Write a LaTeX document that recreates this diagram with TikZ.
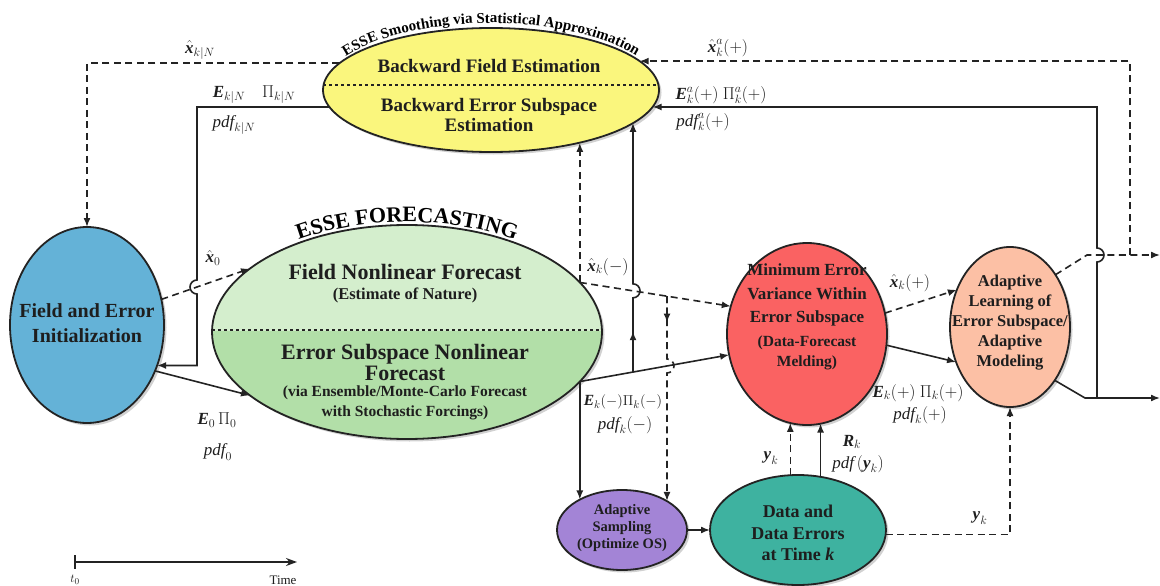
\documentclass[tikz,border=0pt]{standalone}
\usepackage{fontspec}
\setmainfont{Liberation Serif}
\usepackage{amsmath}
\usetikzlibrary{shapes.geometric,arrows.meta,decorations.text,shadows,calc,intersections}
\definecolor{cBlue}{RGB}{100,178,215}
\definecolor{cGreenL}{RGB}{212,238,205}
\definecolor{cGreenD}{RGB}{178,223,168}
\definecolor{cYellow}{RGB}{250,246,125}
\definecolor{cRed}{RGB}{250,98,98}
\definecolor{cPeach}{RGB}{252,192,165}
\definecolor{cPurple}{RGB}{163,132,214}
\definecolor{cTeal}{RGB}{62,178,160}
\definecolor{cText}{RGB}{30,30,30}
\definecolor{cLine}{RGB}{35,35,35}
\newcommand{\bvx}{\text{\bfseries\itshape x}}
\newcommand{\bvE}{\text{\bfseries\itshape E}}
\newcommand{\bvR}{\text{\bfseries\itshape R}}
\newcommand{\bvy}{\text{\bfseries\itshape y}}
\newcommand{\pdfit}{\text{\itshape pdf}}
\begin{document}
\begin{tikzpicture}[x=1pt,y=1pt,
  ell/.style={ellipse, draw=cLine, line width=1.8pt, inner sep=0pt, outer sep=0pt},
  shd/.style={drop shadow={shadow xshift=2.5pt,shadow yshift=-2.5pt,fill=black,opacity=0.18}},
  tx/.style={align=center, text=cText, inner sep=0pt},
  pline/.style={line width=1.6pt, draw=cLine},
  dpline/.style={pline, dash pattern=on 7pt off 4.5pt},
  conn/.style={pline, -{Latex[length=9pt,width=7pt]}},
  dconn/.style={dpline, -{Latex[length=9pt,width=7pt]}},
  lbl/.style={inner sep=0pt, text=cText, font=\fontsize{17}{20}\selectfont},
  divl/.style={draw=cLine, line width=1.4pt, dash pattern=on 3pt off 3pt}
]
\fill[white] (0,0) rectangle (1160,-586);
\useasboundingbox (0,0) rectangle (1160,-586);

% ---------- green ellipse (two-tone) ----------
\fill[black, opacity=0.18] (409.5,-334.5) ellipse [x radius=195, y radius=107];
\fill[cGreenD] (407,-332) ellipse [x radius=195, y radius=107];
\begin{scope}
  \clip (200,-330) rectangle (610,-220);
  \fill[cGreenL] (407,-332) ellipse [x radius=195, y radius=107];
\end{scope}
\node[ell, minimum width=390pt, minimum height=214pt] (fc) at (407,-332) {};
\draw[divl] ([yshift=2pt]fc.west) -- ([yshift=2pt]fc.east);

% ---------- other ellipses ----------
\node[ell, fill=cBlue, shd, minimum width=154pt, minimum height=196pt] (init) at (87,-325) {};
\node[ell, fill=cYellow, shd, minimum width=336pt, minimum height=124pt] (bwd) at (491,-90) {};
\draw[divl] ([yshift=5pt]bwd.west) -- ([yshift=5pt]bwd.east);
\node[ell, fill=cRed, shd, minimum width=160pt, minimum height=182pt] (mev) at (807,-334) {};
\node[ell, fill=cPeach, shd, minimum width=120pt, minimum height=160pt] (al) at (1010,-327) {};
\node[ell, fill=cPurple, shd, minimum width=130pt, minimum height=80pt] (as) at (622,-530) {};
\node[ell, fill=cTeal, shd, minimum width=176pt, minimum height=110pt] (dt) at (798,-530) {};

% ---------- texts in ellipses ----------
\node[tx, font=\fontsize{20}{25}\selectfont\bfseries] (initT) at (87,-323) {Field and Error\\Initialization};
\node[tx, font=\fontsize{19}{20}\selectfont\bfseries] (bwdT1) at (489,-66) {Backward Field Estimation};
\node[tx, font=\fontsize{19}{20}\selectfont\bfseries] (bwdT2) at (489,-115) {Backward Error Subspace\\Estimation};
\node[tx, font=\fontsize{22}{24}\selectfont\bfseries] (fcT1) at (405,-272) {Field Nonlinear Forecast};
\node[tx, font=\fontsize{16.5}{18}\selectfont\bfseries] (fcT2) at (405,-295) {(Estimate of Nature)};
\node[tx, font=\fontsize{22}{21}\selectfont\bfseries] (fcT3) at (405,-362) {Error Subspace Nonlinear\\Forecast};
\node[tx, font=\fontsize{15.5}{19.5}\selectfont\bfseries] (fcT4) at (405,-403) {(via Ensemble/Monte-Carlo Forecast\\with Stochastic Forcings)};
\node[tx, font=\fontsize{17}{23.5}\selectfont\bfseries] (mevT1) at (807,-295) {Minimum Error\\Variance Within\\Error Subspace};
\node[tx, font=\fontsize{15.5}{20}\selectfont\bfseries] (mevT2) at (807,-353) {(Data-Forecast\\Melding)};
\node[tx, font=\fontsize{16.5}{20}\selectfont\bfseries] (alT) at (1010,-323) {Adaptive\\Learning of\\Error Subspace/\\Adaptive\\Modeling};
\node[tx, font=\fontsize{14.5}{17}\selectfont\bfseries] (asT) at (622,-528) {Adaptive\\Sampling\\(Optimize OS)};
\node[tx, font=\fontsize{18}{21.5}\selectfont\bfseries] (dtT) at (798,-533) {Data and\\Data Errors\\at Time \textit{k}};

% ---------- curved titles ----------
\path[color=cText, decorate, decoration={text along path, text align=center,
  text={|\fontsize{22}{22}\selectfont\bfseries|ESSE FORECASTING}}]
  (407,-332) ++(126:198 and 110) arc[start angle=126, end angle=54, x radius=198, y radius=110];
\path[color=cText, decorate, decoration={text along path, text align=center,
  text={|\fontsize{15}{16}\selectfont\bfseries|ESSE Smoothing via Statistical Approximation}}]
  (491,-97) ++(164:174 and 74) arc[start angle=164, end angle=16, x radius=174, y radius=74];

% ---------- helper intersections ----------
\path[name path=lx0] (init.19) -- (fc.158);
\path[name path=v197] (197,0) -- (197,-586);
\path[name intersections={of=lx0 and v197, by=jA}];
\path[name path=lxm] (fc.16) -- (mev.160);
\path[name path=lem] (fc.-16) -- (mev.195);
\path[name path=v633] (633,0) -- (633,-586);
\path[name path=v667] (667,0) -- (667,-586);
\path[name intersections={of=lxm and v633, by=xa}];
\path[name intersections={of=lem and v633, by=ea}];
\path[name intersections={of=lxm and v667, by=xb}];
\path[name intersections={of=lem and v667, by=eb}];
\coordinate (r1) at (1087,-255);
\coordinate (r2) at (1160,-255);
\coordinate (r3) at (1130,-255);
\coordinate (s1) at (1085,-398);
\coordinate (s2) at (1160,-398);
\coordinate (s3) at (1097,-398);
\coordinate (jR) at (s3 |- r1);

% ---------- connectors ----------
\draw[dconn] (bwd.170) -| (init.north);
\draw[conn] (bwd.186) -| ([yshift=7pt]jA) arc[start angle=90, end angle=270, radius=7pt] |- (init.-30);
\draw[dconn] (init.19) -- (fc.158);
\draw[conn] (init.-34) -- (fc.202);

\draw[dconn] (fc.16) -- (mev.160);
\draw[conn] (fc.-16) -- (mev.195);
\draw[dconn] (fc.16) -- (fc.16 |- bwd.-31);
\draw[conn] (fc.-16) -- (fc.-16 |- as.144);
\draw[conn] (ea) -- ([yshift=-7pt]xa) arc[start angle=-90, end angle=90, radius=7pt] -- (xa |- bwd.-13);
\draw[conn] (ea) -- ($(ea)!0.55!([yshift=-7pt]xa)$);
\draw[dconn] (xb) -- ([yshift=7pt]eb) arc[start angle=90, end angle=-90, radius=7pt] -- (xb |- as.33);
\draw[dconn] (xb) -- ($(xb)!0.42!([yshift=7pt]eb)$);

\draw[dconn] (mev.15) -- (al.145);
\draw[conn] (mev.-8) -- (al.213);

\draw[dconn] (al.49) -- (r1) -- (r2);
\draw[dconn] (r3) |- (bwd.11);
\draw[conn] (al.-50) -- (s1) -- (s2);
\draw[conn] (s3) -- ([yshift=-7pt]jR) arc[start angle=-90, end angle=90, radius=7pt] |- (bwd.-6);

\draw[conn] (as.east) -- (dt.west);
\draw[dconn] (dt.98) -- (dt.98 |- mev.-101);
\draw[conn] (dt.67) -- (dt.67 |- mev.-81);
\draw[dconn] (dt.-3) -| (al.south);

% ---------- labels ----------
\node[lbl] (l1) at (200,-50) {$\hat{\bvx}_{k|N}$};
\node[lbl] (l2) at (254,-95) {$\bvE_{k|N}\quad\Pi_{k|N}$};
\node[lbl] (l3) at (234,-125) {$\pdfit_{k|N}$};
\node[lbl] (l4) at (213,-258) {$\hat{\bvx}_0$};
\node[lbl] (l5) at (217,-420) {$\bvE_0\,\Pi_0$};
\node[lbl] (l6) at (218,-452) {$\pdfit_0$};
\node[lbl] (l7) at (608,-267) {$\hat{\bvx}_k(-)$};
\node[lbl, font=\fontsize{15.5}{18}\selectfont] (l8) at (623,-402) {$\bvE_k(-)\Pi_k(-)$};
\node[lbl] (l9) at (625,-425) {$\pdfit_k(-)$};
\node[lbl] (l10) at (910,-283) {$\hat{\bvx}_k(+)$};
\node[lbl] (l11) at (918,-393) {$\bvE_k(+)\ \Pi_k(+)$};
\node[lbl] (l12) at (920,-415) {$\pdfit_k(+)$};
\node[lbl] (l13) at (771,-458) {$\bvy_k$};
\node[lbl] (l14) at (852,-442) {$\bvR_k$};
\node[lbl] (l15) at (858,-464) {$\pdfit\,(\bvy_k)$};
\node[lbl] (l16) at (980,-518) {$\bvy_k$};
\node[lbl] (l17) at (728,-48) {$\hat{\bvx}^a_k(+)$};
\node[lbl] (l18) at (721,-95) {$\bvE^a_k(+)\ \Pi^a_k(+)$};
\node[lbl] (l19) at (703,-122) {$\pdfit^a_k(+)$};

% ---------- time axis ----------
\coordinate (ta) at (75,-562);
\coordinate (tb) at (297,-562);
\draw[line width=1.6pt, draw=cLine, -{Stealth[length=11pt,width=8pt]}] (ta) -- (tb);
\draw[line width=1.2pt, draw=cLine] ([yshift=7pt]ta) -- ([yshift=-7pt]ta);
\node[lbl, font=\fontsize{13}{13}\selectfont] (t0l) at (75,-580) {$t_0$};
\node[lbl, font=\fontsize{13}{13}\selectfont] (timel) at (283,-580) {Time};
\end{tikzpicture}
\end{document}
